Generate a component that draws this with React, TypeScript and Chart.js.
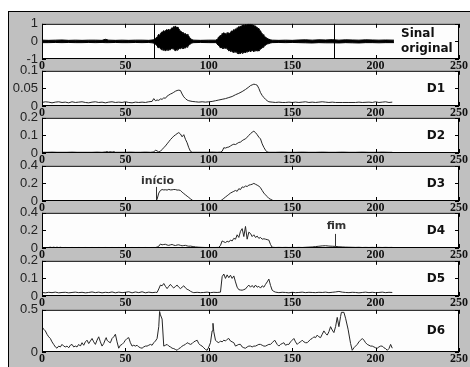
import React, { useEffect, useRef } from "react";
import { Chart, registerables } from "chart.js";
Chart.register(...registerables);

// ---------------- data ----------------
const X_TICKS = [0, 50, 100, 150, 200, 250];
const PANEL_NAMES = [["Sinal", "original"], ["D1"], ["D2"], ["D3"], ["D4"], ["D5"], ["D6"]];
const SIG_TICKS = [-1, 0, 1];
const D1_TICKS = [0, 0.05, 0.1];
const D2_TICKS = [0, 0.1, 0.2];
const D3_TICKS = [0, 0.2, 0.4];
const D4_TICKS = [0, 0.2, 0.4];
const D5_TICKS = [0, 0.1, 0.2];
const D6_TICKS = [0, 0.5];
const SIGNAL_MARKS = [67, 175];
const CALLOUTS = [
  { panel: 3, text: "início", x: 68.5, textY: 0.22, top: 0.16, bottom: 0 },
  { panel: 4, text: "fim", x: 175.5, textY: 0.245, top: 0.16, bottom: 0.018 },
];

// original signal envelope: [x, upper, lower]
const SIG_ENV = [
  [0, .07, -.07], [4, .06, -.07], [8, .07, -.06], [12, .08, -.07], [16, .06, -.06], [20, .07, -.07],
  [24, .06, -.07], [28, .07, -.06], [32, .07, -.07], [36, .06, -.06], [38, .12, -.07], [40, .07, -.07],
  [44, .06, -.06], [48, .07, -.07], [52, .06, -.07], [56, .07, -.06], [60, .07, -.07], [64, .06, -.06],
  [66, .08, -.08], [67, .10, -.10],
  [68, .15, -.16], [68.5, .22, -.20], [69, .25, -.25], [69.5, .36, -.33], [70, .40, -.38], [70.5, .32, -.30],
  [71, .45, -.42], [71.5, .50, -.46], [72, .55, -.48], [72.5, .46, -.40], [73, .62, -.52], [73.5, .54, -.47],
  [74, .60, -.55], [74.5, .66, -.48], [75, .66, -.50], [75.5, .58, -.44], [76, .70, -.52], [76.5, .62, -.45],
  [77, .68, -.48], [77.5, .74, -.40], [78, .78, -.42], [78.5, .70, -.38], [79, .85, -.45], [79.5, .80, -.50],
  [80, .88, -.55], [80.5, .78, -.47], [81, .82, -.50], [81.5, .70, -.42], [82, .72, -.45], [82.5, .64, -.38],
  [83, .60, -.42], [83.5, .55, -.36], [84, .52, -.40], [84.5, .44, -.35], [85, .48, -.42], [85.5, .40, -.34],
  [86, .45, -.38], [86.5, .36, -.30], [87, .40, -.33], [87.5, .34, -.26], [88, .30, -.22], [88.5, .22, -.18],
  [89, .18, -.15], [89.5, .12, -.11], [90, .10, -.09], [91, .07, -.07], [95, .06, -.06], [100, .07, -.07],
  [104, .07, -.07], [104.5, .10, -.10], [105, .12, -.12], [105.5, .20, -.20], [106, .25, -.25], [106.5, .30, -.30],
  [107, .35, -.38], [107.5, .28, -.32], [108, .45, -.40], [108.5, .38, -.35], [109, .50, -.42], [109.5, .42, -.36],
  [110, .45, -.40], [110.5, .38, -.34], [111, .50, -.45], [111.5, .44, -.40], [112, .48, -.55], [112.5, .42, -.48],
  [113, .52, -.58], [113.5, .58, -.52], [114, .60, -.60], [114.5, .55, -.54], [115, .68, -.65], [115.5, .62, -.58],
  [116, .72, -.62], [116.5, .66, -.56], [117, .78, -.68], [117.5, .72, -.62], [118, .85, -.72], [118.5, .80, -.65],
  [119, .88, -.70], [119.5, .83, -.63], [120, .92, -.68], [120.5, .86, -.62], [121, .95, -.65], [121.5, .90, -.60],
  [122, .97, -.66], [122.5, .92, -.58], [123, .98, -.60], [123.5, .94, -.55], [124, 1.0, -.58], [124.5, .95, -.52],
  [125, 1.0, -.60], [125.5, .93, -.53], [126, .97, -.55], [126.5, .90, -.50], [127, .92, -.58], [127.5, .86, -.51],
  [128, .88, -.55], [128.5, .80, -.49], [129, .80, -.56], [129.5, .74, -.50], [130, .72, -.55], [130.5, .64, -.48],
  [131, .60, -.45], [131.5, .50, -.40], [132, .45, -.38], [132.5, .38, -.33], [133, .35, -.30], [133.5, .28, -.25],
  [134, .25, -.22], [134.5, .20, -.18], [135, .18, -.15], [135.5, .14, -.13], [136, .12, -.12], [137, .09, -.09],
  [138, .07, -.07], [142, .06, -.06], [146, .07, -.07], [150, .06, -.06], [154, .08, -.07], [158, .09, -.08],
  [162, .07, -.09], [166, .09, -.07], [170, .08, -.08], [174, .10, -.08], [178, .07, -.09], [182, .09, -.07],
  [186, .08, -.08], [190, .07, -.09], [194, .09, -.07], [198, .08, -.07], [202, .07, -.08], [206, .08, -.07],
  [211, .07, -.07],
];

const D1 = [
  [0, .010], [2, .012], [4, .011], [6, .009], [8, .011], [10, .012], [12, .010], [14, .011], [16, .009], [18, .012],
  [20, .010], [22, .011], [24, .012], [26, .010], [28, .009], [30, .011], [32, .012], [34, .010], [36, .011], [38, .009],
  [40, .011], [42, .012], [44, .010], [46, .011], [48, .010], [50, .012], [52, .010], [54, .009], [56, .011], [58, .010],
  [60, .011], [62, .010], [64, .012], [66, .013], [67, .021], [68, .015], [69, .017], [70, .016], [71, .020], [72, .019],
  [73, .023], [74, .022], [75, .028], [76, .031], [77, .034], [78, .036], [79, .039], [80, .042], [81, .044], [82, .045],
  [83, .044], [84, .034], [85, .026], [86, .021], [87, .017], [88, .015], [90, .013], [92, .012], [94, .011], [96, .012],
  [98, .011], [100, .012], [102, .013], [104, .015], [106, .017], [108, .019], [110, .021], [112, .024], [114, .027], [116, .032],
  [118, .036], [120, .041], [122, .047], [124, .054], [125, .058], [126, .060], [127, .062], [128, .061], [129, .059], [130, .050],
  [131, .038], [132, .030], [133, .024], [134, .019], [135, .015], [136, .012], [138, .011], [140, .010], [142, .011], [144, .010],
  [146, .010], [148, .011], [150, .010], [152, .011], [154, .010], [156, .011], [158, .012], [160, .010], [162, .011], [164, .010],
  [166, .011], [168, .012], [170, .011], [172, .010], [174, .011], [176, .010], [180, .010], [184, .010], [188, .010], [190, .011],
  [192, .010], [196, .011], [198, .010], [200, .012], [202, .010], [204, .011], [206, .012], [208, .010], [210, .011],
];

const D2 = [
  [0, .004], [3, .004], [6, .005], [9, .004], [12, .004], [15, .004], [18, .005], [21, .004], [24, .004], [27, .004],
  [30, .004], [33, .005], [36, .004], [38, .006], [39, .008], [40, .005], [41, .008], [42, .005], [43, .008], [44, .004],
  [47, .004], [50, .004], [53, .005], [56, .004], [59, .004], [62, .005], [65, .004], [67, .006], [68, .016], [69, .012],
  [70, .006], [71, .010], [72, .020], [73, .030], [74, .040], [75, .052], [76, .064], [77, .076], [78, .086], [79, .096],
  [80, .103], [81, .110], [82, .116], [83, .108], [84, .092], [85, .104], [86, .078], [87, .058], [88, .030], [89, .010],
  [90, .004], [93, .004], [96, .004], [99, .004], [102, .005], [105, .004], [107, .005], [108, .010], [109, .030], [110, .028],
  [111, .032], [112, .034], [113, .040], [114, .046], [115, .050], [116, .048], [117, .054], [118, .060], [119, .062], [120, .070],
  [121, .076], [122, .080], [123, .090], [124, .100], [125, .110], [126, .118], [127, .124], [128, .116], [129, .104], [130, .090],
  [131, .080], [132, .052], [133, .032], [134, .016], [135, .006], [136, .004], [140, .004], [144, .005], [148, .004], [152, .004],
  [156, .005], [160, .004], [164, .004], [168, .005], [172, .004], [176, .004], [180, .005], [184, .004], [188, .004], [192, .005],
  [196, .004], [200, .004], [204, .005], [208, .004], [210, .004],
];

const D3 = [
  [0, 0], [20, 0], [40, 0], [60, 0], [68, 0], [69, .02], [70, .09], [71, .12], [72, .13], [73, .126],
  [74, .128], [75, .124], [76, .132], [77, .126], [78, .127], [79, .131], [80, .13], [81, .124], [82, .125], [83, .12],
  [84, .10], [85, .085], [86, .07], [87, .055], [88, .04], [89, .025], [90, .01], [91, 0], [100, 0], [107, 0],
  [108, .015], [109, .03], [110, .045], [111, .06], [112, .075], [113, .09], [114, .10], [115, .11], [116, .12], [117, .11],
  [118, .14], [119, .13], [120, .16], [121, .155], [122, .17], [123, .165], [124, .18], [125, .185], [126, .19], [127, .20],
  [128, .19], [129, .18], [130, .17], [131, .15], [132, .12], [133, .09], [134, .07], [135, .05], [136, .03], [137, .02],
  [138, .01], [139, 0], [170, 0], [210, 0],
];

const D4 = [
  [0, .006], [2, .005], [4, .006], [5, .009], [6, .005], [7, .009], [8, .005], [9, .009], [10, .005], [11, .008],
  [12, .005], [14, .006], [16, .005], [18, .006], [20, .005], [22, .006], [24, .005], [26, .006], [28, .005], [30, .006],
  [32, .005], [34, .006], [36, .005], [38, .006], [40, .005], [42, .006], [44, .005], [46, .006], [48, .005], [50, .006],
  [52, .005], [54, .006], [56, .005], [58, .006], [60, .005], [62, .006], [64, .005], [66, .006], [68, .006], [69, .010],
  [70, .020], [71, .045], [72, .036], [73, .040], [74, .042], [75, .034], [76, .030], [77, .036], [78, .040], [79, .032],
  [80, .028], [81, .034], [82, .036], [83, .030], [84, .025], [85, .028], [86, .030], [87, .024], [88, .020], [89, .022],
  [90, .018], [91, .016], [92, .012], [94, .009], [96, .007], [98, .006], [100, .006], [102, .006], [104, .006], [106, .007],
  [107, .030], [108, .080], [109, .070], [110, .062], [111, .076], [112, .068], [113, .090], [114, .080], [115, .110], [116, .100],
  [117, .150], [118, .120], [119, .190], [120, .220], [121, .130], [122, .245], [123, .100], [124, .180], [125, .165], [126, .130],
  [127, .150], [128, .120], [129, .135], [130, .110], [131, .120], [132, .100], [133, .105], [134, .100], [135, .095], [136, .090],
  [137, .040], [138, .008], [140, .006], [142, .007], [144, .006], [146, .007], [148, .006], [150, .007], [152, .006], [154, .007],
  [156, .006], [158, .008], [160, .010], [162, .012], [164, .016], [166, .020], [168, .024], [170, .026], [172, .022], [174, .020],
  [176, .018], [178, .014], [180, .012], [182, .010], [184, .009], [186, .008], [188, .007], [190, .008], [192, .006], [194, .007],
  [196, .006], [198, .007], [200, .006], [202, .007], [204, .006], [206, .007], [208, .006], [210, .007],
];

const D5 = [
  [0, .020], [2, .018], [4, .021], [6, .019], [8, .022], [10, .018], [12, .020], [14, .021], [16, .018], [18, .020],
  [20, .022], [22, .019], [24, .021], [26, .018], [28, .020], [30, .023], [32, .019], [34, .022], [36, .018], [38, .021],
  [40, .019], [42, .023], [44, .018], [46, .022], [48, .019], [50, .021], [52, .024], [54, .018], [56, .023], [58, .019],
  [60, .024], [62, .018], [64, .022], [66, .019], [68, .021], [69, .020], [70, .040], [71, .062], [72, .058], [73, .071],
  [74, .055], [75, .042], [76, .055], [77, .066], [78, .054], [79, .046], [80, .054], [81, .062], [82, .050], [83, .042],
  [84, .050], [85, .058], [86, .046], [87, .038], [88, .034], [89, .027], [90, .022], [91, .019], [93, .021], [95, .019],
  [97, .020], [99, .022], [101, .019], [103, .021], [105, .020], [107, .022], [108, .110], [109, .125], [110, .100], [111, .120],
  [112, .104], [113, .118], [114, .100], [115, .114], [116, .080], [117, .050], [118, .036], [119, .034], [120, .033], [121, .036],
  [122, .040], [123, .052], [124, .062], [125, .050], [126, .060], [127, .048], [128, .062], [129, .050], [130, .055], [131, .045],
  [132, .058], [133, .050], [134, .066], [135, .080], [136, .096], [137, .060], [138, .033], [139, .026], [140, .022], [142, .019],
  [144, .021], [146, .020], [148, .018], [150, .021], [152, .019], [154, .020], [156, .022], [158, .019], [160, .021], [162, .020],
  [164, .019], [166, .021], [168, .020], [170, .022], [172, .019], [174, .021], [176, .023], [178, .026], [180, .022], [182, .020],
  [184, .019], [186, .021], [188, .020], [190, .018], [192, .020], [194, .022], [196, .019], [198, .021], [200, .019], [202, .020],
  [204, .022], [206, .019], [208, .021], [210, .020],
];

const D6 = [
  [0, .30], [1, .27], [2, .25], [3, .21], [4, .18], [5, .16], [6, .12], [7, .09], [8, .06], [9, .045],
  [10, .07], [11, .06], [12, .09], [13, .07], [14, .06], [15, .07], [16, .05], [17, .08], [18, .09], [19, .06],
  [20, .07], [21, .06], [22, .09], [23, .07], [24, .11], [25, .08], [26, .12], [27, .14], [28, .10], [29, .13],
  [30, .16], [31, .12], [32, .09], [33, .14], [34, .18], [35, .12], [36, .07], [37, .10], [38, .15], [38.5, .17],
  [39, .14], [40, .12], [41, .11], [42, .16], [43, .18], [44, .21], [45, .12], [46, .045], [47, .08], [48, .09],
  [49, .11], [50, .14], [51, .16], [52, .17], [53, .11], [54, .07], [55, .08], [56, .07], [57, .08], [58, .06],
  [59, .05], [60, .045], [61, .06], [62, .07], [63, .07], [64, .08], [65, .09], [66, .08], [67, .11], [68, .13],
  [69, .16], [70, .30], [70.5, .48], [71, .44], [72, .39], [73, .07], [74, .08], [75, .09], [76, .07], [77, .06],
  [78, .045], [79, .04], [80, .03], [81, .02], [82, .04], [83, .05], [84, .07], [85, .08], [86, .09], [87, .11],
  [88, .10], [89, .09], [90, .10], [91, .12], [92, .13], [93, .14], [94, .10], [95, .08], [96, .07], [97, .05],
  [98, .03], [99, .02], [100, .06], [101, .11], [102, .25], [102.5, .34], [103, .24], [104, .14], [105, .12], [106, .11],
  [107, .13], [108, .12], [109, .14], [110, .13], [111, .15], [112, .16], [113, .13], [114, .12], [115, .11], [116, .07],
  [117, .08], [118, .09], [119, .09], [120, .06], [121, .05], [122, .045], [123, .06], [124, .07], [125, .07], [126, .06],
  [127, .07], [128, .07], [129, .08], [130, .09], [131, .09], [132, .08], [133, .07], [134, .07], [135, .08], [136, .09],
  [137, .09], [138, .11], [139.5, .14], [141, .09], [142, .07], [143, .09], [144, .10], [145, .11], [146, .08], [147, .09],
  [148, .09], [149, .12], [150, .14], [151, .16], [152, .12], [153, .09], [154, .11], [155, .12], [156, .14], [157, .12],
  [158, .11], [159, .11], [160, .13], [161, .15], [162, .16], [163, .18], [164, .17], [165, .20], [166, .18], [167, .17],
  [168, .21], [169, .25], [170, .22], [171, .20], [172, .24], [173, .30], [174, .26], [175, .23], [176, .30], [177, .41],
  [178, .30], [179, .42], [179.5, .47], [181, .47], [182, .40], [183.5, .27], [185, .10], [186, .02], [187, .05], [188, .07],
  [189, .09], [190, .12], [191, .14], [192, .16], [193, .14], [194, .11], [195, .09], [196, .08], [197, .07], [198, .07],
  [199, .06], [200, .05], [201, .045], [202, .06], [203, .07], [204, .07], [205, .05], [206, .04], [207, .02], [208, .04],
  [209, .09], [210, .045],
];

// ---------------- layout (not data) ----------------
const W = 470;
const H = 367;
const PLOT_LEFT = 42;
const PLOT_RIGHT = 459;
const PANEL_TOP = [21, 68, 115, 163, 210, 258, 307];
const PANEL_BOTTOM = [59, 106, 153, 201, 248, 296, 352];
const PAD_TOP = 9;
const X_AXIS_H = 16;
const LINE_COLOR = "#262626";

const PANELS = [
  { ticks: SIG_TICKS, min: -1, max: 1 },
  { ticks: D1_TICKS, min: 0, max: 0.1, series: D1 },
  { ticks: D2_TICKS, min: 0, max: 0.2, series: D2 },
  { ticks: D3_TICKS, min: 0, max: 0.4, series: D3 },
  { ticks: D4_TICKS, min: 0, max: 0.4, series: D4 },
  { ticks: D5_TICKS, min: 0, max: 0.2, series: D5 },
  { ticks: D6_TICKS, min: 0, max: 0.5, series: D6 },
];

const line = (ctx: CanvasRenderingContext2D, x1: number, y1: number, x2: number, y2: number) => {
  ctx.beginPath();
  ctx.moveTo(x1, y1);
  ctx.lineTo(x2, y2);
  ctx.stroke();
};

const decoPlugin = {
  id: "panelDeco",
  beforeDraw(chart: any) {
    const { ctx, chartArea: a } = chart;
    ctx.save();
    ctx.fillStyle = "#fdfdfd";
    ctx.fillRect(a.left, a.top, a.right - a.left, a.bottom - a.top);
    ctx.restore();
  },
  afterDatasetsDraw(chart: any, _args: any, opts: any) {
    const { ctx, chartArea: a } = chart;
    const xs = chart.scales.x;
    const ys = chart.scales.y;
    const idx = opts.index as number;
    ctx.save();
    ctx.strokeStyle = "#000";
    ctx.lineWidth = 1;
    if (idx === 0) {
      for (const m of SIGNAL_MARKS) {
        const px = Math.round(xs.getPixelForValue(m)) + 0.5;
        line(ctx, px, a.top, px, a.bottom);
      }
    }
    for (const c of CALLOUTS) {
      if (c.panel !== idx) continue;
      const px = Math.round(xs.getPixelForValue(c.x)) + 0.5;
      ctx.strokeStyle = "#333";
      line(ctx, px, ys.getPixelForValue(c.top), px, ys.getPixelForValue(c.bottom));
      ctx.fillStyle = "#333";
      ctx.font = 'bold 11px "DejaVu Sans"';
      ctx.textAlign = "center";
      ctx.textBaseline = "middle";
      ctx.fillText(c.text, px + 1, ys.getPixelForValue(c.textY));
    }
    ctx.strokeStyle = "#000";
    ctx.strokeRect(a.left + 0.5, a.top + 0.5, a.right - a.left - 1, a.bottom - a.top - 1);
    for (const t of xs.ticks) {
      const px = Math.round(xs.getPixelForValue(t.value)) + 0.5;
      line(ctx, px, a.top, px, a.top + 4);
      line(ctx, px, a.bottom, px, a.bottom - 4);
    }
    for (const t of ys.ticks) {
      const py = Math.round(ys.getPixelForValue(t.value)) + 0.5;
      line(ctx, a.left, py, a.left + 4, py);
      line(ctx, a.right, py, a.right - 4, py);
    }
    const name = PANEL_NAMES[idx];
    ctx.fillStyle = "#111";
    ctx.font = 'bold 12px "DejaVu Sans"';
    ctx.textBaseline = "middle";
    const mid = (a.top + a.bottom) / 2;
    if (name.length === 2) {
      ctx.textAlign = "left";
      ctx.fillText(name[0], a.right - 58, mid - 8);
      ctx.fillText(name[1], a.right - 58, mid + 7);
    } else {
      ctx.textAlign = "center";
      ctx.fillText(name[0], a.right - 23, mid);
    }
    ctx.restore();
  },
};

function buildDatasets(i: number) {
  if (i === 0) {
    return [
      {
        data: SIG_ENV.map((p) => ({ x: p[0], y: p[1] })),
        borderColor: "#000",
        backgroundColor: "#000",
        borderWidth: 1,
        pointRadius: 0,
        fill: "+1",
      },
      {
        data: SIG_ENV.map((p) => ({ x: p[0], y: p[2] })),
        borderColor: "#000",
        borderWidth: 1,
        pointRadius: 0,
        fill: false,
      },
    ];
  }
  const s = PANELS[i].series as number[][];
  return [
    {
      data: s.map((p) => ({ x: p[0], y: p[1] })),
      borderColor: LINE_COLOR,
      borderWidth: 1,
      pointRadius: 0,
      fill: false,
      tension: 0,
    },
  ];
}

function Panel({ index }: { index: number }) {
  const ref = useRef<HTMLCanvasElement | null>(null);
  const top = PANEL_TOP[index] - PAD_TOP;
  const height = PANEL_BOTTOM[index] - PANEL_TOP[index] + PAD_TOP + X_AXIS_H;
  useEffect(() => {
    if (!ref.current) return;
    const p = PANELS[index];
    const chart = new Chart(ref.current, {
      type: "line",
      data: { datasets: buildDatasets(index) as any },
      options: {
        animation: false,
        responsive: false,
        maintainAspectRatio: false,
        events: [],
        layout: { padding: { top: PAD_TOP, left: 0, right: W - PLOT_RIGHT, bottom: 0 } },
        plugins: {
          legend: { display: false },
          tooltip: { enabled: false },
          panelDeco: { index },
        } as any,
        scales: {
          x: {
            type: "linear",
            min: 0,
            max: 250,
            afterBuildTicks: (s: any) => {
              s.ticks = X_TICKS.map((v) => ({ value: v }));
            },
            afterFit: (s: any) => {
              s.height = X_AXIS_H;
            },
            grid: { display: false, drawTicks: false },
            border: { display: false },
            ticks: {
              padding: 0,
              autoSkip: false,
              maxRotation: 0,
              color: "#111",
              font: { family: '"Liberation Serif"', weight: "bold", size: 12 },
              callback: (v: any) => String(v),
            },
          },
          y: {
            type: "linear",
            min: p.min,
            max: p.max,
            afterBuildTicks: (s: any) => {
              s.ticks = p.ticks.map((v) => ({ value: v }));
            },
            afterFit: (s: any) => {
              s.width = PLOT_LEFT;
            },
            grid: { display: false, drawTicks: false },
            border: { display: false },
            ticks: {
              padding: 4,
              autoSkip: false,
              color: "#222",
              font: { family: '"Liberation Sans"', size: 13 },
              callback: (v: any) => String(+Number(v).toFixed(3)),
            },
          },
        },
      },
      plugins: [decoPlugin as any],
    });
    return () => chart.destroy();
  }, [index]);
  return (
    <canvas
      ref={ref}
      width={W}
      height={height}
      style={{ position: "absolute", left: 0, top, width: W, height }}
    />
  );
}

export default function App() {
  return (
    <div
      style={{
        position: "absolute",
        left: 0,
        top: 0,
        width: W,
        height: H,
        background: "#fff",
        overflow: "hidden",
      }}
    >
      <div
        style={{
          position: "absolute",
          left: 8,
          top: 11,
          width: W - 8 + 2,
          height: H - 11 + 2,
          background: "#c0c0c0",
          borderLeft: "1px solid #000",
          borderTop: "1px solid #000",
          boxSizing: "border-box",
        }}
      />
      {PANELS.map((_, i) => (
        <Panel key={i} index={i} />
      ))}
    </div>
  );
}
